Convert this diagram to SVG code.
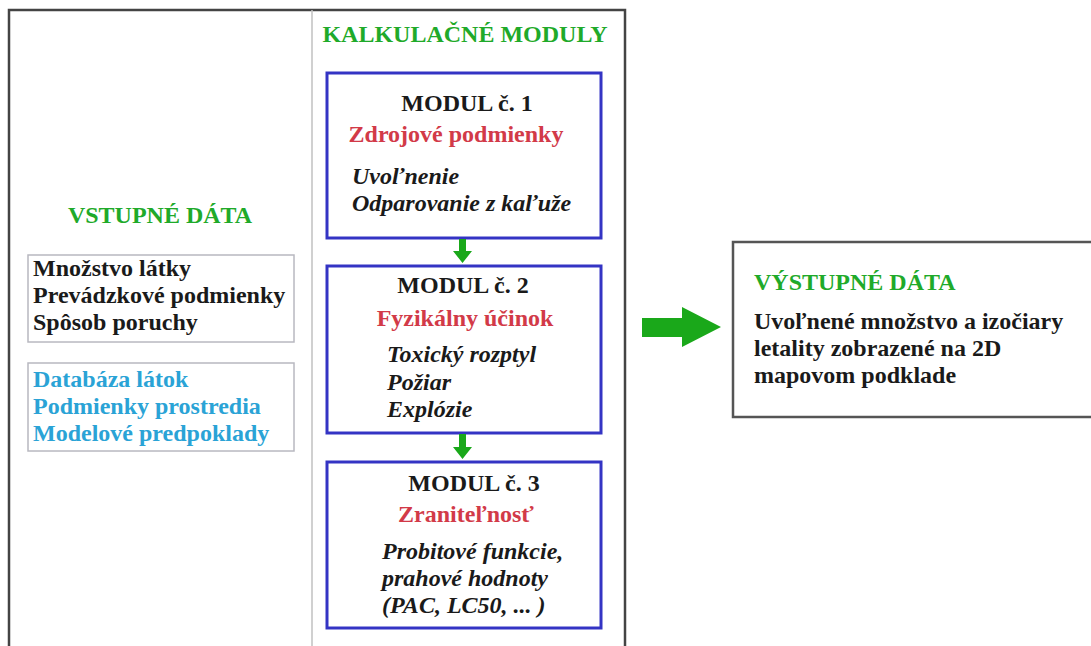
<svg xmlns="http://www.w3.org/2000/svg" width="1091" height="646" viewBox="0 0 1091 646">
<style>
text{font-family:"Liberation Serif","Times New Roman",serif;font-weight:bold;font-size:24px}
.g{fill:#1faa2a}
.r{fill:#d23a48}
.k{fill:#1a1a1a}
.b{fill:#2aa3d6}
.i{font-style:italic}
.c{text-anchor:middle}
.mod{fill:#fff;stroke:#3434c4;stroke-width:3}
.inbox{fill:#fff;stroke:#b8b8c0;stroke-width:1.5}
.arr{fill:#1aa81a}
</style>
<rect width="1091" height="646" fill="#fff"/>
<g id="frame">
<rect x="9" y="10" width="616" height="660" fill="none" stroke="#444" stroke-width="2.5"/>
<line x1="312" y1="10" x2="312" y2="646" stroke="#c0c0c0" stroke-width="1.5"/>
</g>
<g id="title-kalk"><text class="g c" x="465" y="42">KALKULAČNÉ MODULY</text></g>
<g id="title-vstup"><text class="g c" x="160" y="223">VSTUPNÉ DÁTA</text></g>
<g id="input1">
<rect class="inbox" x="28" y="255" width="266" height="87"/>
<text class="k" x="33" y="276">Množstvo látky</text>
<text class="k" x="33" y="303">Prevádzkové podmienky</text>
<text class="k" x="33" y="330">Spôsob poruchy</text>
</g>
<g id="input2">
<rect class="inbox" x="28" y="363" width="266" height="88"/>
<text class="b" x="33" y="387">Databáza látok</text>
<text class="b" x="33" y="414">Podmienky prostredia</text>
<text class="b" x="33" y="441">Modelové predpoklady</text>
</g>
<g id="modul1">
<rect class="mod" x="327" y="73" width="274" height="165"/>
<text class="k c" x="467" y="111">MODUL č. 1</text>
<text class="r c" x="456" y="142">Zdrojové podmienky</text>
<text class="k i" x="352" y="184">Uvoľnenie</text>
<text class="k i" x="352" y="211">Odparovanie z kaľuže</text>
</g>
<g id="modul2">
<rect class="mod" x="327" y="266" width="274" height="167"/>
<text class="k c" x="463" y="293">MODUL č. 2</text>
<text class="r c" x="465" y="326">Fyzikálny účinok</text>
<text class="k i" x="387" y="362">Toxický rozptyl</text>
<text class="k i" x="387" y="390">Požiar</text>
<text class="k i" x="387" y="417">Explózie</text>
</g>
<g id="modul3">
<rect class="mod" x="327" y="462" width="274" height="166"/>
<text class="k c" x="474" y="491">MODUL č. 3</text>
<text class="r c" x="466" y="522">Zraniteľnosť</text>
<text class="k i" x="382" y="559">Probitové funkcie,</text>
<text class="k i" x="382" y="586">prahové hodnoty</text>
<text class="k i" x="382" y="613">(PAC, LC50, ... )</text>
</g>
<g id="output">
<rect x="733" y="242" width="380" height="175" fill="#fff" stroke="#555" stroke-width="2.5"/>
<text class="g" x="754" y="290">VÝSTUPNÉ DÁTA</text>
<text class="k" x="754" y="329">Uvoľnené množstvo a izočiary</text>
<text class="k" x="754" y="356">letality zobrazené na 2D</text>
<text class="k" x="754" y="383">mapovom podklade</text>
</g>
<g id="connectors">
<polygon class="arr" points="459,239 466,239 466,251 472,251 462.5,263 453,251 459,251"/>
<polygon class="arr" points="459,434 466,434 466,447 472,447 462.5,459 453,447 459,447"/>
<polygon class="arr" points="642,318 682,318 682,307 721,327 682,347 682,337 642,337"/>
</g>
</svg>
